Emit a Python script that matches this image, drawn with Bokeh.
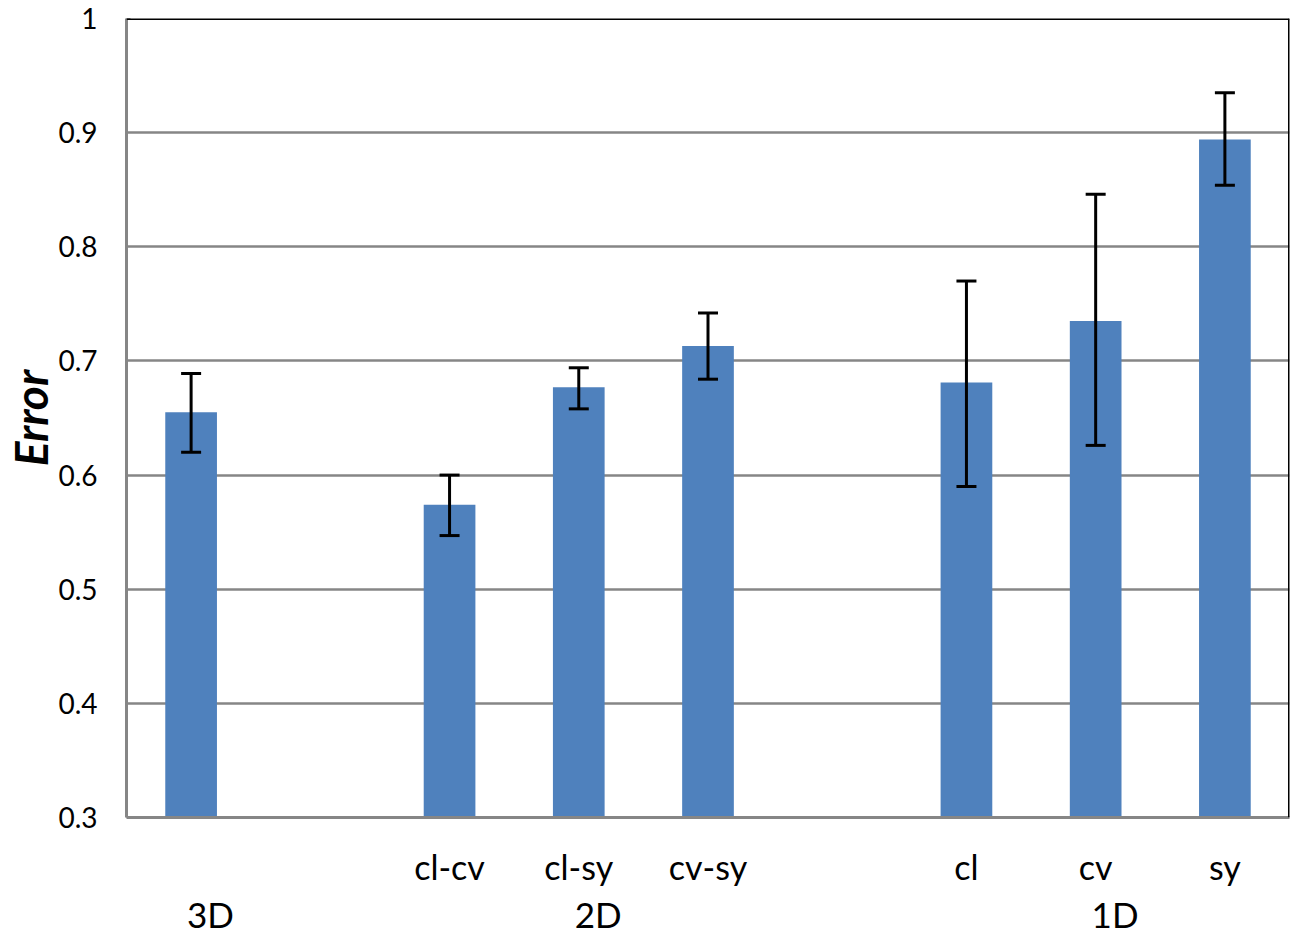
from bokeh.plotting import figure
from bokeh.models import (ColumnDataSource, FixedTicker, Range1d, LinearAxis,
                          Whisker, TeeHead, Span)
from bokeh.embed import file_html
from bokeh.resources import INLINE

# ---- data ----
groups = ["3D", "2D", "1D"]
group_members = [[""], ["cl-cv", "cl-sy", "cv-sy"], ["cl", "cv", "sy"]]
values = [0.655, 0.574, 0.677, 0.713, 0.681, 0.735, 0.894]
err_low = [0.620, 0.547, 0.658, 0.684, 0.590, 0.626, 0.854]
err_high = [0.689, 0.600, 0.694, 0.742, 0.770, 0.846, 0.935]
y_ticks = [0.3, 0.4, 0.5, 0.6, 0.7, 0.8, 0.9, 1.0]
y_tick_labels = ["0.3", "0.4", "0.5", "0.6", "0.7", "0.8", "0.9", "1"]
y_title = "Error"

# ---- slot positions: one empty slot between groups ----
xs, sub_labels, group_pos = [], [], []
slot = 0
for gi, members in enumerate(group_members):
    start = slot
    for m in members:
        xs.append(slot)
        sub_labels.append(m)
        slot += 1
    group_pos.append((start + slot - 1) / 2 + 0.15)
    slot += 1
n_slots = slot - 1

FONT = "Lato"
BAR = "#4F81BD"
GRID = "#868686"

src = ColumnDataSource(dict(x=xs, top=values, lo=err_low, hi=err_high))

x0, x1 = -0.5, n_slots - 0.5
p = figure(frame_width=1163, frame_height=799,
           x_range=Range1d(x0, x1), y_range=Range1d(0.3, 1.0),
           output_backend="svg", toolbar_location=None,
           min_border_left=126, min_border_top=18, min_border_right=4,
           min_border_bottom=100)
p.background_fill_color = "white"
p.border_fill_color = "white"
p.outline_line_color = None

p.vbar(x="x", top="top", bottom=0.3, width=0.4, source=src,
       fill_color=BAR, line_color=None)

wh = Whisker(base="x", upper="hi", lower="lo", source=src,
             line_color="black", line_width=3, level="overlay",
             upper_head=TeeHead(size=20, line_color="black", line_width=3),
             lower_head=TeeHead(size=20, line_color="black", line_width=3))
p.add_layout(wh)

# y axis
ya = p.yaxis[0]
ya.ticker = FixedTicker(ticks=y_ticks)
ya.major_label_overrides = {t: l for t, l in zip(y_ticks, y_tick_labels)}
ya.axis_line_color = GRID
ya.axis_line_width = 3
ya.major_tick_in = 4
ya.major_tick_out = 0
ya.major_tick_line_color = GRID
ya.minor_tick_line_color = None
ya.major_label_text_font = FONT
ya.major_label_text_font_size = "28px"
ya.major_label_text_color = "black"
ya.major_label_standoff = 29
ya.axis_label = y_title
ya.axis_label_text_font = FONT
ya.axis_label_text_font_size = "46px"
ya.axis_label_text_font_style = "bold italic"
ya.axis_label_text_color = "black"
ya.axis_label_standoff = -3

p.ygrid.ticker = FixedTicker(ticks=y_ticks[1:-1])
p.ygrid.grid_line_color = GRID
p.ygrid.grid_line_width = 2.5
p.xgrid.grid_line_color = None

# x axis (sub-category labels)
xa = p.xaxis[0]
xa.ticker = FixedTicker(ticks=xs)
xa.major_label_overrides = {x: l for x, l in zip(xs, sub_labels)}
xa.axis_line_color = GRID
xa.axis_line_width = 3
xa.major_tick_line_color = None
xa.minor_tick_line_color = None
xa.major_label_text_font = FONT
xa.major_label_text_font_size = "34px"
xa.major_label_text_color = "black"
xa.major_label_standoff = 22

# group axis
ga = LinearAxis(ticker=FixedTicker(ticks=group_pos),
                major_label_overrides={g: n for g, n in zip(group_pos, groups)})
ga.axis_line_color = None
ga.major_tick_line_color = None
ga.minor_tick_line_color = None
ga.major_label_text_font = FONT
ga.major_label_text_font_size = "35px"
ga.major_label_text_color = "black"
ga.major_label_standoff = -3
p.add_layout(ga, "below")

# top and right borders (black)
p.add_layout(Span(location=1.0, dimension="width", line_color="black", line_width=3))
p.add_layout(Span(location=x1, dimension="height", line_color="black", line_width=3))

open("out.html", "w").write(file_html(p, INLINE))
